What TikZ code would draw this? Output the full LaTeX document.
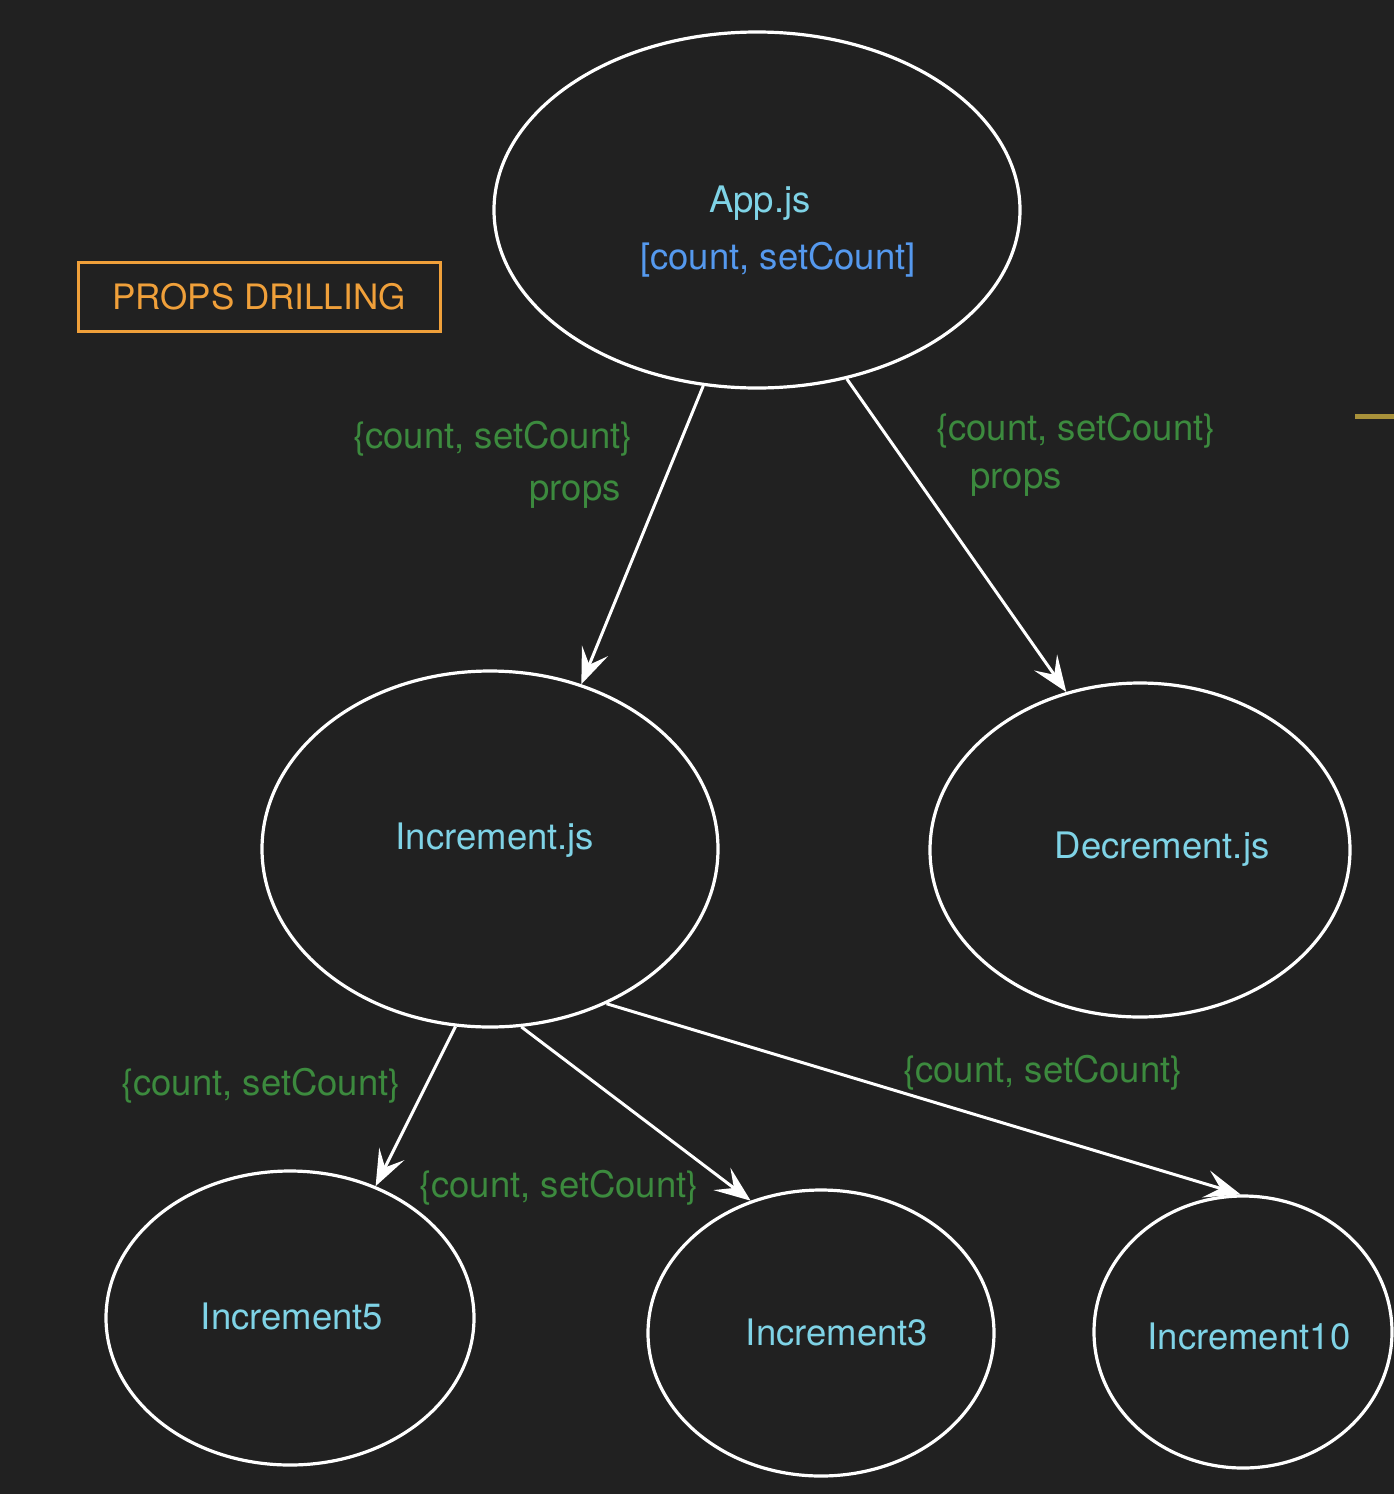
\documentclass[tikz,border=0pt]{standalone}
\usepackage{fontspec}
\setmainfont{TeX Gyre Heros}
\usetikzlibrary{arrows.meta,shapes.geometric}
\definecolor{bg}{HTML}{212121}
\definecolor{cyantxt}{HTML}{7FD3E6}
\definecolor{bluetxt}{HTML}{5599EE}
\definecolor{greentxt}{HTML}{3C8A3E}
\definecolor{orangetxt}{HTML}{F0A03A}
\definecolor{goldline}{HTML}{A8913A}
\tikzset{
  comp/.style={ellipse, draw=white, line width=3.2pt, inner sep=0pt},
  lbl/.style={font=\fontsize{36.5}{44}\selectfont, inner sep=0pt},
  compname/.style={lbl, text=cyantxt},
  greenlbl/.style={lbl, text=greentxt},
  flow/.style={draw=white, line width=3pt, -{Stealth[length=36pt, width=28pt, inset=15pt]}},
}
\begin{document}
\begin{tikzpicture}[x=1pt,y=-1pt]
\fill[bg] (0,0) rectangle (1394,1494);
\useasboundingbox (0,0) rectangle (1394,1494);

\node[comp, minimum width=526pt, minimum height=356pt] (app) at (757,210) {};
\node[comp, minimum width=456pt, minimum height=356pt] (inc) at (490,849) {};
\node[comp, minimum width=420pt, minimum height=334pt] (dec) at (1140,850) {};
\node[comp, minimum width=368pt, minimum height=294pt] (inc5) at (290,1318) {};
\node[comp, minimum width=346pt, minimum height=286pt] (inc3) at (821,1333) {};
\node[comp, minimum width=298pt, minimum height=272pt] (inc10) at (1243,1332) {};

\node[compname] (apptxt) at (760,203) {App.js};
\node[lbl, text=bluetxt] (state) at (778,260) {[count, setCount]};
\node[compname] (inctxt) at (495,840) {Increment.js};
\node[compname] (dectxt) at (1162,849) {Decrement.js};
\node[compname] (inc5txt) at (292,1316) {Increment5};
\node[compname] (inc3txt) at (837,1332) {Increment3};
\node[compname] (inc10txt) at (1249,1336) {Increment10};

\node[draw=orangetxt, line width=3pt, minimum width=362pt, minimum height=69pt, inner sep=0pt, font=\fontsize{35}{42}\selectfont, text=orangetxt] (title) at (259,296.5) {PROPS DRILLING};

\node[greenlbl] (l1) at (493,439) {\{count, setCount\}};
\node[greenlbl] (l1p) at (575,495) {props};
\node[greenlbl] (l2) at (1076,431) {\{count, setCount\}};
\node[greenlbl] (l2p) at (1016,483) {props};
\node[greenlbl] (l3) at (261,1086) {\{count, setCount\}};
\node[greenlbl] (l4) at (559,1188) {\{count, setCount\}};
\node[greenlbl] (l5) at (1043,1073) {\{count, setCount\}};

\draw[flow] (app.253.5) -- (inc.61.5);
\draw[flow] (app.298.7) -- (dec.115.1);
\draw[flow] (inc.259.5) -- (inc5.57);
\draw[flow] (inc.280) -- (inc3.118.9);
\draw[flow] (inc.307.3) -- (inc10.91.3);

\draw[goldline, line width=5pt] (1355,416) -- (1394,416);
\end{tikzpicture}
\end{document}
